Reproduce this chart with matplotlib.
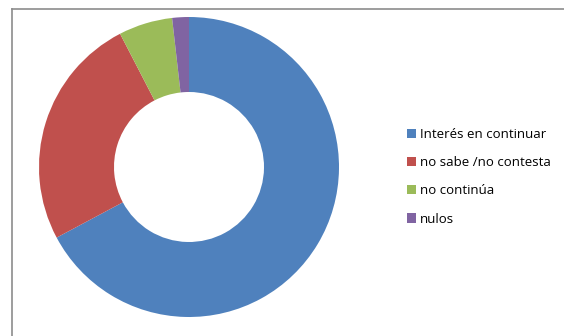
import matplotlib.pyplot as plt
from matplotlib.lines import Line2D
from matplotlib.patches import Patch

labels = ["Interés en continuar", "no sabe /no contesta", "no continúa", "nulos"]
values = [67.2, 25.2, 5.8, 1.8]
colors = ["#4F81BD", "#C0504D", "#9BBB59", "#8064A2"]

plt.rcParams['font.family'] = ['Open Sans', 'DejaVu Sans']

W, H = 564, 336
fig = plt.figure(figsize=(W / 100, H / 100), dpi=100)

# donut: center ~(189,167) px, outer radius ~150 px
cx, cy, r = 189, 167, 150
ax = fig.add_axes([(cx - r) / W, (H - cy - r) / H, 2 * r / W, 2 * r / H])
ax.pie(values, colors=colors, startangle=90, counterclock=False,
       wedgeprops=dict(width=0.5, edgecolor="none"), radius=1)
ax.set_xlim(-1, 1)
ax.set_ylim(-1, 1)
ax.axis("off")

# outer frame (only top and left visible)
fig.add_artist(Line2D([12 / W, 12 / W], [0, 1 - 9 / H], transform=fig.transFigure,
                      color="#8c8c8c", lw=1.2))
fig.add_artist(Line2D([12 / W, 1], [1 - 9 / H, 1 - 9 / H], transform=fig.transFigure,
                      color="#8c8c8c", lw=1.2))

handles = [Patch(facecolor=c, edgecolor="none") for c in colors]
fig.legend(handles, labels, loc="upper left", bbox_to_anchor=(407 / W, 1 - 128 / H),
           frameon=False, fontsize=9.5, handlelength=0.7, handleheight=0.7,
           handletextpad=0.3, labelspacing=1.15, borderaxespad=0, borderpad=0)

fig.savefig("out.png", dpi=100)
